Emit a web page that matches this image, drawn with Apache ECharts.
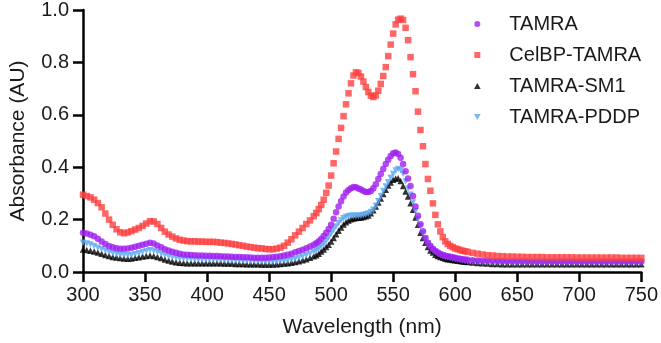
<!DOCTYPE html>
<html>
<head>
<meta charset="utf-8">
<script src="https://cdn.jsdelivr.net/npm/echarts@6/dist/echarts.min.js"></script>
<style>
html, body { margin: 0; padding: 0; background: #fff; }
#chart { width: 661px; height: 343px; }
</style>
</head>
<body>
<div id="chart"></div>
<script>
// wavelength grid (nm)
var wavelength = [
    300,303,306,309,312,315,318,321,324,327,330,333,336,339,342,345,348,351,354,357,
    360,363,366,369,372,375,378,381,384,387,390,393,396,399,402,405,408,411,414,417,
    420,423,426,429,432,435,438,441,444,447,450,453,456,459,462,465,468,471,474,477,
    480,483,486,
    488,490,492,494,496,498,500,502,504,506,508,510,512,514,516,518,520,522,524,526,528,530,
    532,534,536,538,540,542,544,546,548,550,552,554,556,558,560,562,564,566,568,570,
    572,574,576,578,580,582,584,586,588,590,592,594,596,598,600,602,604,606,608,610,
    614,618,622,626,630,634,638,642,646,650,654,658,662,666,670,674,678,682,686,690,
    694,698,702,706,710,714,718,722,726,730,734,738,742,746,750
];

var tamra = [
    0.150,0.147,0.142,0.136,0.127,0.116,0.107,0.099,0.094,0.091,0.089,0.089,0.090,0.093,0.096,0.100,0.104,0.108,0.112,0.109,
    0.101,0.094,0.087,0.082,0.077,0.073,0.070,0.067,0.066,0.065,0.064,0.063,0.063,0.062,0.062,0.061,0.061,0.060,0.059,0.059,
    0.058,0.057,0.057,0.056,0.056,0.055,0.054,0.054,0.054,0.054,0.055,0.056,0.058,0.060,0.063,0.066,0.070,0.075,0.080,0.085,
    0.091,0.097,0.104,
    0.110,0.117,0.126,0.137,0.150,0.164,0.180,0.203,0.228,0.250,0.270,0.288,0.303,0.313,0.320,0.324,0.323,0.319,0.315,0.309,0.305,0.305,
    0.309,0.320,0.335,0.355,0.374,0.393,0.412,0.428,0.443,0.453,0.456,0.450,0.436,0.412,0.385,0.357,0.328,0.290,0.250,0.215,
    0.182,0.156,0.130,0.112,0.099,0.089,0.080,0.074,0.069,0.065,0.062,0.060,0.058,0.056,0.054,0.052,0.051,0.049,0.048,0.047,
    0.045,0.044,0.043,0.043,0.042,0.042,0.041,0.041,0.041,0.041,0.041,0.041,0.040,0.040,0.040,0.040,0.040,0.040,0.040,0.040,
    0.040,0.040,0.040,0.040,0.040,0.040,0.040,0.040,0.040,0.040,0.040,0.040,0.040,0.040,0.040
];

var celbp = [
    0.295,0.290,0.285,0.276,0.263,0.247,0.223,0.200,0.180,0.163,0.152,0.148,0.151,0.156,0.162,0.168,0.176,0.185,0.194,0.193,
    0.183,0.168,0.154,0.143,0.135,0.128,0.123,0.120,0.118,0.117,0.117,0.116,0.116,0.115,0.115,0.115,0.114,0.112,0.111,0.109,
    0.107,0.105,0.102,0.100,0.097,0.095,0.093,0.091,0.090,0.088,0.087,0.087,0.089,0.093,0.100,0.112,0.125,0.140,0.154,0.168,
    0.183,0.197,0.213,
    0.225,0.240,0.256,0.276,0.302,0.330,0.368,0.415,0.460,0.508,0.550,0.595,0.640,0.682,0.720,0.750,0.762,0.760,0.746,0.727,0.706,0.687,
    0.673,0.668,0.674,0.692,0.718,0.748,0.782,0.824,0.868,0.910,0.945,0.963,0.967,0.962,0.932,0.885,0.820,0.755,0.690,0.612,
    0.542,0.480,0.412,0.355,0.310,0.262,0.218,0.182,0.155,0.133,0.117,0.107,0.100,0.095,0.090,0.087,0.084,0.081,0.079,0.077,
    0.073,0.070,0.067,0.064,0.063,0.061,0.060,0.059,0.059,0.058,0.058,0.057,0.057,0.057,0.057,0.056,0.056,0.056,0.056,0.056,
    0.056,0.055,0.055,0.055,0.055,0.055,0.055,0.055,0.055,0.055,0.054,0.054,0.054,0.054,0.054
];

var sm1 = [
    0.086,0.084,0.081,0.078,0.074,0.070,0.065,0.061,0.057,0.055,0.053,0.052,0.051,0.052,0.054,0.056,0.059,0.061,0.063,0.061,
    0.057,0.053,0.048,0.044,0.040,0.037,0.035,0.034,0.033,0.033,0.033,0.033,0.033,0.033,0.033,0.033,0.033,0.033,0.032,0.032,
    0.032,0.031,0.031,0.031,0.030,0.030,0.030,0.030,0.029,0.029,0.029,0.029,0.030,0.031,0.032,0.033,0.035,0.038,0.041,0.045,
    0.049,0.054,0.060,
    0.064,0.070,0.078,0.086,0.095,0.104,0.116,0.130,0.144,0.157,0.170,0.181,0.190,0.197,0.201,0.204,0.206,0.207,0.208,0.210,0.213,0.216,
    0.224,0.236,0.250,0.265,0.281,0.298,0.314,0.330,0.342,0.352,0.357,0.358,0.347,0.328,0.307,0.288,0.262,0.238,0.208,0.180,
    0.150,0.130,0.112,0.095,0.082,0.074,0.066,0.061,0.057,0.054,0.051,0.049,0.048,0.046,0.045,0.043,0.042,0.040,0.039,0.038,
    0.036,0.034,0.033,0.032,0.031,0.031,0.030,0.030,0.030,0.030,0.030,0.030,0.030,0.030,0.030,0.030,0.030,0.030,0.030,0.030,
    0.030,0.030,0.030,0.030,0.030,0.030,0.030,0.030,0.030,0.030,0.030,0.030,0.030,0.030,0.030
];

var pddp = [
    0.112,0.109,0.105,0.099,0.093,0.087,0.082,0.076,0.072,0.069,0.066,0.065,0.064,0.065,0.068,0.072,0.076,0.080,0.083,0.081,
    0.075,0.070,0.064,0.060,0.056,0.053,0.052,0.051,0.050,0.049,0.048,0.048,0.047,0.047,0.047,0.046,0.046,0.046,0.045,0.045,
    0.044,0.044,0.043,0.042,0.042,0.041,0.041,0.040,0.039,0.039,0.039,0.039,0.040,0.041,0.042,0.044,0.047,0.050,0.054,0.059,
    0.064,0.070,0.077,
    0.082,0.090,0.097,0.106,0.118,0.132,0.146,0.160,0.174,0.186,0.197,0.205,0.210,0.213,0.215,0.215,0.215,0.215,0.216,0.218,0.220,0.223,
    0.229,0.238,0.253,0.270,0.290,0.309,0.326,0.343,0.360,0.374,0.387,0.393,0.388,0.374,0.345,0.318,0.295,0.265,0.232,0.200,
    0.175,0.148,0.126,0.109,0.095,0.085,0.077,0.071,0.066,0.062,0.058,0.056,0.054,0.052,0.050,0.048,0.046,0.044,0.042,0.041,
    0.040,0.039,0.038,0.037,0.036,0.036,0.036,0.035,0.035,0.035,0.035,0.035,0.035,0.035,0.035,0.035,0.035,0.035,0.035,0.035,
    0.035,0.035,0.035,0.035,0.035,0.035,0.035,0.035,0.035,0.035,0.035,0.035,0.035,0.035,0.035
];

function pairs(arr) {
    return wavelength.map(function (w, i) { return [w, arr[i]]; });
}

var font = "'Liberation Sans', Arial, Helvetica, sans-serif";
var textColor = '#1a1a1a';

var myChart = echarts.init(document.getElementById('chart'), null, {renderer: 'canvas'});

var option = {
    animation: false,
    backgroundColor: '#fff',
    grid: {left: 71, right: 18.5, top: 9.3, bottom: 70.3},
    legend: {
        orient: 'vertical',
        left: 469,
        top: 9,
        itemWidth: 54,
        itemHeight: 6,
        itemGap: 11,
        selectedMode: false,
        textStyle: {fontFamily: font, fontSize: 20, lineHeight: 20, color: textColor},
        data: [
            {name: 'TAMRA', icon: 'circle'},
            {name: 'CelBP-TAMRA', icon: 'path://M0 0H10V10H0Z'},
            {name: 'TAMRA-SM1', icon: 'path://M5 0L10 9L0 9Z'},
            {name: 'TAMRA-PDDP', icon: 'path://M0 0L10 0L5 9Z'}
        ]
    },
    xAxis: {
        type: 'value',
        min: 300,
        max: 750,
        interval: 50,
        name: 'Wavelength (nm)',
        nameLocation: 'middle',
        nameGap: 45,
        nameTextStyle: {fontFamily: font, fontSize: 21, color: textColor},
        axisLine: {lineStyle: {color: '#000', width: 2.5}},
        axisTick: {inside: false, length: 10, lineStyle: {color: '#000', width: 2.5}},
        axisLabel: {inside: false, fontFamily: font, fontSize: 20, color: textColor, margin: 13},
        splitLine: {show: false}
    },
    yAxis: {
        type: 'value',
        min: 0,
        max: 1,
        interval: 0.2,
        name: 'Absorbance (AU)',
        nameLocation: 'middle',
        nameGap: 54,
        nameTextStyle: {fontFamily: font, fontSize: 21, color: textColor},
        axisLine: {show: true, lineStyle: {color: '#000', width: 2.5}},
        axisTick: {show: true, inside: false, length: 10, lineStyle: {color: '#000', width: 2.5}},
        axisLabel: {
            inside: false, fontFamily: font, fontSize: 20, color: textColor, margin: 14,
            formatter: function (v) { return v.toFixed(1); }
        },
        splitLine: {show: false}
    },
    series: [{
        name: 'TAMRA-SM1',
        type: 'scatter',
        symbol: 'triangle',
        symbolSize: 6.5,
        itemStyle: {color: '#000000'},
        data: pairs(sm1)
    }, {
        name: 'TAMRA-PDDP',
        type: 'scatter',
        symbol: 'triangle',
        symbolRotate: 180,
        symbolSize: 6.5,
        itemStyle: {color: '#5aa8f2'},
        data: pairs(pddp)
    }, {
        name: 'TAMRA',
        type: 'scatter',
        symbol: 'circle',
        symbolSize: 6.5,
        itemStyle: {color: '#a01ff0'},
        data: pairs(tamra)
    }, {
        name: 'CelBP-TAMRA',
        type: 'scatter',
        symbol: 'rect',
        symbolSize: 6.5,
        itemStyle: {color: '#ff4040'},
        data: pairs(celbp)
    }]
};

myChart.setOption(option);
</script>
</body>
</html>
